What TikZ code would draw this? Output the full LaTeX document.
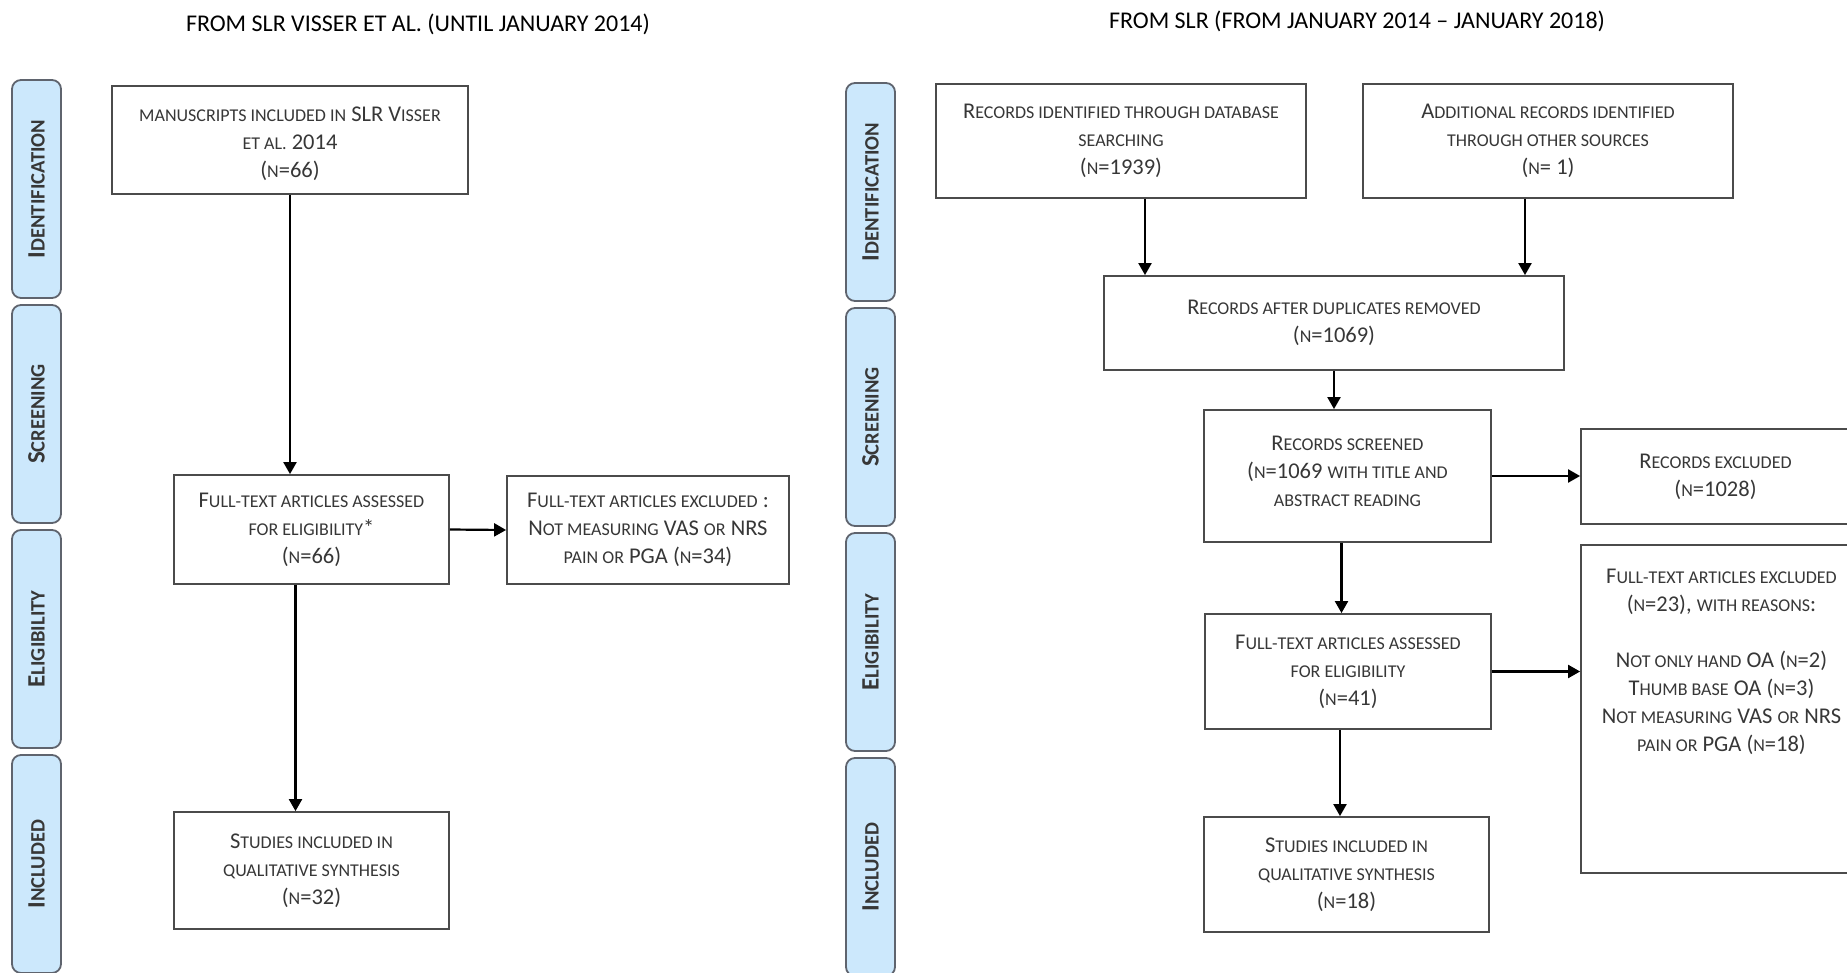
\documentclass[tikz,border=0pt]{standalone}
\usepackage{fontspec}
\setmainfont{Carlito}
\usetikzlibrary{arrows.meta}
\definecolor{barblue}{RGB}{204,232,252}
\definecolor{bargray}{RGB}{95,100,110}
\definecolor{boxgray}{RGB}{75,75,75}
\definecolor{txtgray}{RGB}{55,55,55}
\newcommand{\sm}[1]{{\fontsize{18}{28}\selectfont\MakeUppercase{#1}}}
\newcommand{\smb}[1]{{\fontsize{20.5}{24}\selectfont\MakeUppercase{#1}}}

\begin{document}
\begin{tikzpicture}[x=1pt,y=-1pt,
box/.style={draw=boxgray,line width=1.8pt,fill=white,align=center,inner sep=0pt,text=txtgray,font=\fontsize{22.5}{28}\selectfont},
phase/.style={draw=bargray,line width=1.8pt,fill=barblue,rounded corners=9pt,rotate=90,minimum width=218pt,minimum height=49pt,inner sep=0pt,text=txtgray,font=\fontsize{25}{28}\selectfont\bfseries},
arr/.style={line width=2.2pt,-{Triangle[length=12pt,width=13pt]}},
title/.style={font=\fontsize{24}{28}\selectfont,text=black}]
\useasboundingbox (0,0) rectangle (1847,972);
\clip (0,0) rectangle (1847,972);

%titles
\node[title](tl) at (418,24) {FROM SLR VISSER ET AL. (UNTIL JANUARY 2014)};
\node[title](tr) at (1357,21) {FROM SLR (FROM JANUARY 2014 – JANUARY 2018)};

%phase bars on both sides
\node[phase](pl1) at (36.5,189) {I\smb{dentification}};
\node[phase](pl2) at (36.5,414) {S\smb{creening}};
\node[phase](pl3) at (36.5,639) {E\smb{ligibility}};
\node[phase](pl4) at (36.5,864) {I\smb{ncluded}};
\node[phase](pr1) at (870.5,192) {I\smb{dentification}};
\node[phase](pr2) at (870.5,417) {S\smb{creening}};
\node[phase](pr3) at (870.5,642) {E\smb{ligibility}};
\node[phase](pr4) at (870.5,867) {I\smb{ncluded}};

%left flow
\node[box,minimum width=356pt,minimum height=108pt](b1) at (290,140) {};
\node[box,draw=none,fill=none,yshift=-4pt](b1t) at (b1.center)
	{\sm{manuscripts included in} SLR V\sm{isser}\\ \sm{et al.} 2014\\ (\sm{n}=66)};
\node[box,minimum width=275pt,minimum height=109pt](b2) at (311.5,529.5)
	{F\sm{ull-text articles assessed}\\ \sm{for eligibility}*\\ (\sm{n}=66)};
\node[box,minimum width=282pt,minimum height=108pt](b3) at (648,530)
	{F\sm{ull-text articles excluded} :\\ N\sm{ot measuring} VAS \sm{or} NRS\\ \sm{pain or} PGA (\sm{n}=34)};
\node[box,minimum width=275pt,minimum height=117pt](b4) at (311.5,870.5)
	{S\sm{tudies included in}\\ \sm{qualitative synthesis}\\ (\sm{n}=32)};

\draw[arr] (b1.south) -- (b1.south |- b2.north);
\draw[arr] (b2.east) -- (b3.west);
\draw[arr] ([xshift=-16pt]b2.south) -- ([xshift=-16pt]b2.south |- b4.north);

%right flow
\node[box,minimum width=370pt,minimum height=114pt](r1) at (1121,141)
	{R\sm{ecords identified through database}\\ \sm{searching}\\ (\sm{n}=1939)};
\node[box,minimum width=370pt,minimum height=114pt](r2) at (1548,141)
	{A\sm{dditional records identified}\\ \sm{through other sources}\\ (\sm{n}= 1)};
\node[box,minimum width=460pt,minimum height=94pt](r3) at (1334,323)
	{R\sm{ecords after duplicates removed}\\ (\sm{n}=1069)};
\node[box,minimum width=287pt,minimum height=132pt](r4) at (1347.5,476) {};
\node[box,draw=none,fill=none,yshift=5pt](r4t) at (r4.center)
	{R\sm{ecords screened}\\ (\sm{n}=1069 \sm{with title and}\\ \sm{abstract reading}};
\node[box,minimum width=269pt,minimum height=95pt](r5) at (1715.5,476.5)
	{R\sm{ecords excluded}\\ (\sm{n}=1028)};
\node[box,minimum width=286pt,minimum height=115pt](r6) at (1348,671.5)
	{F\sm{ull-text articles assessed}\\ \sm{for eligibility}\\ (\sm{n}=41)};
\node[box,minimum width=281pt,minimum height=328pt](r7) at (1721.5,709) {};
\node[box,draw=none,fill=none,anchor=north,yshift=-24pt](r7t) at (r7.north)
	{F\sm{ull-text articles excluded}\\ (\sm{n}=23), \sm{with reasons}:\\[28pt]
	N\sm{ot only hand} OA (\sm{n}=2)\\ T\sm{humb base} OA (\sm{n}=3)\\
	N\sm{ot measuring} VAS \sm{or} NRS\\ \sm{pain or} PGA (\sm{n}=18)};
\node[box,minimum width=285pt,minimum height=115pt](r8) at (1346.5,874.5)
	{S\sm{tudies included in}\\ \sm{qualitative synthesis}\\ (\sm{n}=18)};

\draw[arr] ([xshift=24pt]r1.south) -- ([xshift=24pt]r1.south |- r3.north);
\draw[arr] ([xshift=-23pt]r2.south) -- ([xshift=-23pt]r2.south |- r3.north);
\draw[arr] (r3.south) -- (r3.south |- r4.north);
\draw[arr] (r4.east) -- (r4.east -| r5.west);
\draw[arr] ([xshift=-6pt]r4.south) -- ([xshift=-6pt]r4.south |- r6.north);
\draw[arr] (r6.east) -- (r6.east -| r7.west);
\draw[arr] ([xshift=-8pt]r6.south) -- ([xshift=-8pt]r6.south |- r8.north);

\end{tikzpicture}
\end{document}
